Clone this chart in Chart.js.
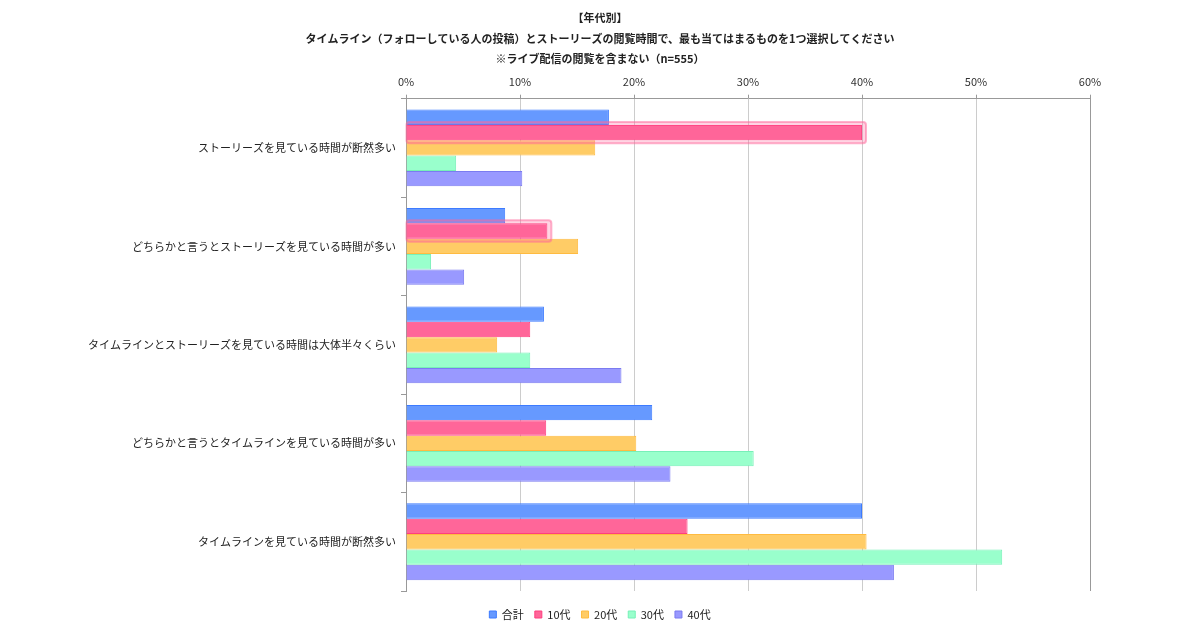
<!DOCTYPE html>
<html>
<head>
<meta charset="utf-8">
<script src="https://cdn.jsdelivr.net/npm/chart.js@4"></script>
<style>
    html, body { margin: 0; padding: 0; background: #fff; }
    #wrap { width: 1200px; height: 630px; }
</style>
</head>
<body>
<div id="wrap"><canvas id="ageChart"></canvas></div>
<script>
// データ
const categories = [
    "ストーリーズを見ている時間が断然多い",
    "どちらかと言うとストーリーズを見ている時間が多い",
    "タイムラインとストーリーズを見ている時間は大体半々くらい",
    "どちらかと言うとタイムラインを見ている時間が多い",
    "タイムラインを見ている時間が断然多い",
];
const seriesNames = ["合計", "10代", "20代", "30代", "40代"];
const totalValues = [17.8, 8.7, 12.1, 21.6, 40.0];
const teensValues = [40.0, 12.4, 10.9, 12.3, 24.7];
const twentiesValues = [16.6, 15.1, 8.0, 20.2, 40.4];
const thirtiesValues = [4.4, 2.2, 10.9, 30.5, 52.3];
const fortiesValues = [10.2, 5.1, 18.9, 23.2, 42.8];
const highlightBars = [0, 1]; // 10代で強調されている項目
const titleLines = [
    "【年代別】",
    "タイムライン（フォローしている人の投稿）とストーリーズの閲覧時間で、最も当てはまるものを1つ選択してください",
    "※ライブ配信の閲覧を含まない（n=555）",
];

const FONT = "'Noto Sans CJK JP', 'Noto Sans', sans-serif";

// 10代の強調枠
const highlightPlugin = {
    id: "highlight",
    afterDatasetsDraw(chart) {
        const meta = chart.getDatasetMeta(1);
        const ctx = chart.ctx;
        ctx.save();
        highlightBars.forEach((i) => {
            const bar = meta.data[i];
            const top = bar.y - bar.height / 2 - 3;
            const left = bar.base;
            const w = bar.x - bar.base + 4;
            const h = bar.height + 6;
            ctx.beginPath();
            ctx.roundRect(left, top, w, h, 3);
            ctx.fillStyle = "rgba(255,102,153,0.28)";
            ctx.fill();
            ctx.lineWidth = 2;
            ctx.strokeStyle = "rgba(255,102,153,0.5)";
            ctx.stroke();
        });
        ctx.restore();
    },
};

const ctx = document.getElementById("ageChart");

new Chart(ctx, {
    type: "bar",

    data: {
        labels: categories,

        datasets: [
            {
                label: seriesNames[0],
                data: totalValues,
                backgroundColor: "#6699ff",
                borderColor: "#3d7bff",
            },
            {
                label: seriesNames[1],
                data: teensValues,
                backgroundColor: "#ff6699",
                borderColor: "#ff3f7f",
            },
            {
                label: seriesNames[2],
                data: twentiesValues,
                backgroundColor: "#ffcc66",
                borderColor: "#ffbb40",
            },
            {
                label: seriesNames[3],
                data: thirtiesValues,
                backgroundColor: "#99ffcc",
                borderColor: "#77f0b8",
            },
            {
                label: seriesNames[4],
                data: fortiesValues,
                backgroundColor: "#9999ff",
                borderColor: "#7b7bf0",
            },
        ],
    },

    options: {
        indexAxis: "y",
        responsive: true,
        maintainAspectRatio: false,
        animation: false,

        datasets: {
            bar: {
                borderWidth: 1,
                categoryPercentage: 0.78,
                barPercentage: 1.0,
            },
        },

        layout: {
            padding: { left: 0, right: 0, top: 0, bottom: 0 },
        },

        plugins: {
            title: {
                display: true,
                text: titleLines,
                color: "#222",
                font: { family: FONT, size: 11, weight: "bold", lineHeight: 1.9 },
                padding: { top: 7, bottom: 0 },
            },
            legend: {
                position: "bottom",
                labels: {
                    boxWidth: 7,
                    boxHeight: 7,
                    padding: 11,
                    color: "#222",
                    font: { family: FONT, size: 11 },
                },
            },
            tooltip: { enabled: false },
        },

        scales: {
            x: {
                position: "top",
                min: 0,
                max: 60,
                ticks: {
                    stepSize: 10,
                    padding: 6,
                    color: "#333",
                    font: { family: FONT, size: 11 },
                    callback: function (value) {
                        return value + "%";
                    },
                },
                grid: {
                    color: (c) => (c.tick && (c.tick.value === 0 || c.tick.value === 60) ? "#999" : "#cccccc"),
                    tickLength: 4,
                    tickColor: "#999",
                },
                border: { color: "#999" },
                afterFit: (s) => {
                    s.height = 29;
                },
            },
            // 凡例との余白用
            xBottom: {
                type: "linear",
                position: "bottom",
                ticks: { display: false },
                grid: { display: false },
                border: { display: false },
                afterFit: (s) => {
                    s.height = 7;
                },
            },
            y: {
                ticks: {
                    padding: 5,
                    color: "#222",
                    font: { family: FONT, size: 11 },
                },
                grid: {
                    drawOnChartArea: false,
                    tickLength: 5,
                    tickColor: "#999",
                    offset: true,
                },
                border: { color: "#999" },
                afterFit: (s) => {
                    s.width = 406;
                },
            },
            yRight: {
                type: "category",
                position: "right",
                labels: categories,
                ticks: { display: false },
                grid: { display: false },
                border: { display: false },
                afterFit: (s) => {
                    s.width = 110;
                },
            },
        },
    },

    plugins: [highlightPlugin],
});
</script>
</body>
</html>
